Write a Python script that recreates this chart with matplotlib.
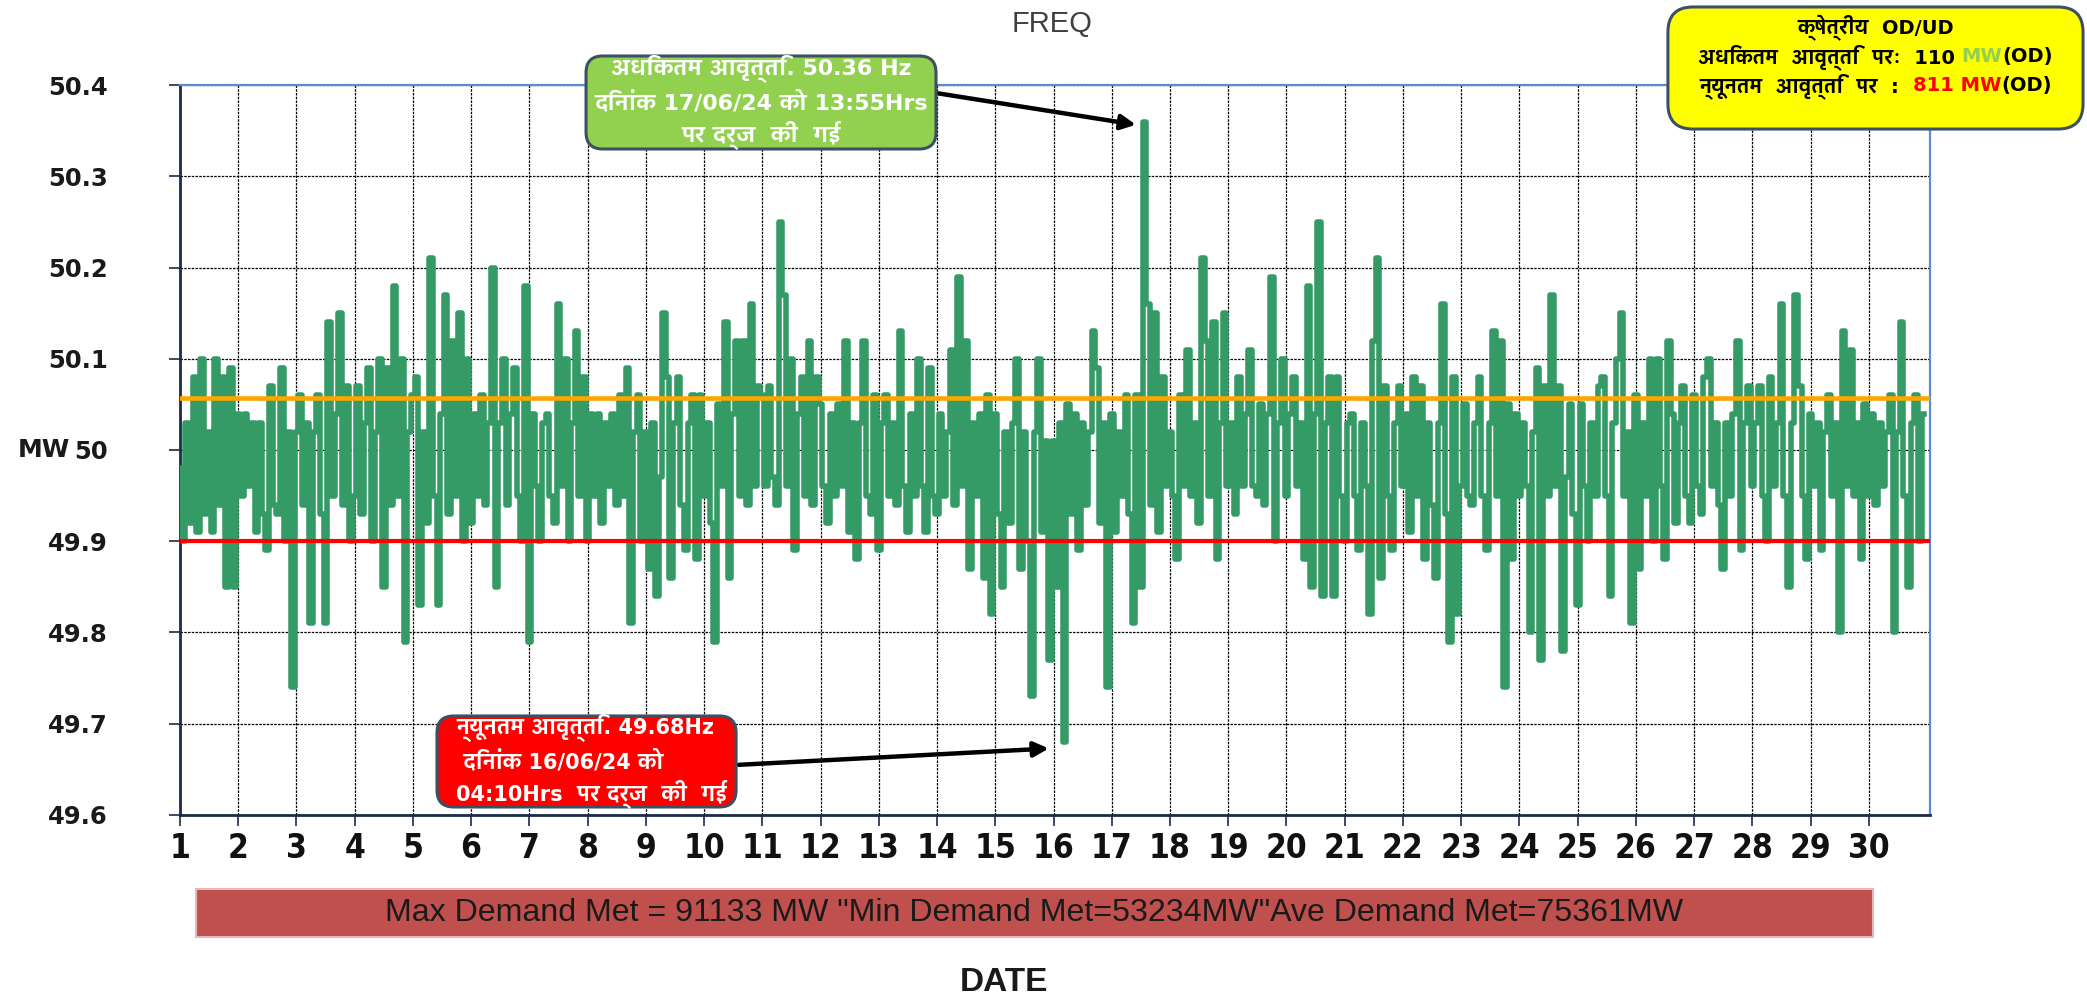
import numpy as np
import matplotlib
matplotlib.use("Agg")
import matplotlib.pyplot as plt
from matplotlib import font_manager, ft2font
from matplotlib.patches import FancyBboxPatch, Rectangle

# frequency readings, 16 per day (every 1.5 h)
freq_wk1 = [
    49.98, 49.90, 50.03, 49.92, 50.08, 49.91, 50.10, 49.93, 50.02, 49.91, 50.10, 49.94, 50.08, 49.85, 50.09, 49.85,
    50.04, 49.95, 50.04, 49.96, 50.03, 49.91, 50.03, 49.93, 49.89, 50.07, 49.94, 49.93, 50.09, 49.90, 50.02, 49.74,
    50.02, 50.06, 49.94, 50.03, 49.81, 50.02, 50.06, 49.93, 49.81, 50.14, 49.95, 50.04, 50.15, 49.94, 50.07, 49.90,
    49.95, 50.07, 49.93, 50.03, 50.09, 49.90, 50.02, 50.10, 49.85, 50.09, 49.94, 50.18, 49.95, 50.10, 49.79, 50.02,
    50.06, 50.08, 49.83, 50.02, 49.92, 50.21, 49.95, 49.83, 50.04, 50.17, 49.93, 50.12, 49.95, 50.15, 49.90, 50.10,
    49.92, 50.04, 49.95, 50.06, 49.94, 50.03, 50.20, 49.85, 50.03, 50.10, 49.94, 50.04, 50.09, 49.95, 49.90, 50.18,
    49.79, 50.04, 49.96, 49.90, 50.03, 50.04, 49.95, 49.92, 50.16, 49.96, 50.10, 49.90, 50.03, 50.13, 49.95, 50.08,
]
freq_wk2 = [
    49.90, 50.04, 49.95, 50.04, 49.92, 50.03, 49.96, 50.04, 49.94, 50.06, 49.95, 50.09, 49.81, 50.02, 50.06, 49.90,
    50.02, 49.87, 50.03, 49.84, 49.97, 50.15, 50.08, 49.86, 50.03, 50.08, 49.94, 49.89, 50.03, 50.06, 49.88, 50.06,
    49.95, 50.03, 49.92, 49.79, 50.05, 49.96, 50.14, 49.86, 50.04, 50.12, 49.95, 50.12, 49.94, 50.16, 49.96, 50.07,
    50.06, 49.96, 50.07, 49.97, 49.94, 50.25, 50.17, 49.96, 50.10, 49.89, 50.04, 50.08, 49.95, 50.12, 49.94, 50.08,
    50.05, 49.96, 49.92, 50.04, 49.95, 50.05, 49.96, 50.12, 49.91, 50.03, 49.88, 50.03, 50.12, 49.95, 49.93, 50.06,
    49.89, 50.03, 50.06, 49.95, 50.03, 49.94, 50.13, 49.96, 49.91, 50.04, 49.95, 50.10, 49.96, 49.91, 50.09, 49.95,
    49.93, 50.04, 49.95, 50.02, 50.11, 49.94, 50.19, 49.96, 50.12, 49.87, 50.03, 49.95, 50.04, 49.86, 50.06, 49.82,
]
freq_wk3 = [
    50.04, 49.93, 49.85, 50.02, 49.92, 50.03, 50.10, 49.87, 50.02, 49.90, 49.73, 50.02, 50.10, 49.91, 50.01, 49.77,
    50.01, 49.85, 50.03, 49.68, 50.05, 49.93, 50.04, 49.89, 50.03, 49.94, 50.02, 50.13, 50.09, 49.92, 50.03, 49.74,
    50.04, 49.91, 50.02, 49.95, 50.06, 49.93, 49.81, 50.06, 49.85, 50.36, 50.16, 49.94, 50.15, 49.91, 50.08, 49.96,
    50.02, 49.95, 49.88, 50.06, 49.96, 50.11, 49.95, 50.03, 49.92, 50.21, 50.12, 49.95, 50.14, 49.88, 50.03, 50.15,
    49.96, 50.03, 49.93, 50.08, 49.96, 50.04, 50.11, 49.96, 49.95, 50.05, 49.94, 50.04, 50.19, 49.90, 50.03, 50.10,
    49.95, 50.04, 50.08, 49.96, 50.03, 49.88, 50.18, 49.85, 50.04, 50.25, 49.84, 50.03, 50.08, 49.84, 50.08, 49.95,
    49.90, 50.03, 50.04, 49.95, 49.89, 50.03, 49.96, 49.82, 50.12, 50.21, 49.86, 50.07, 49.95, 49.89, 50.03, 50.07,
]
freq_wk4 = [
    49.96, 50.04, 49.91, 50.08, 49.95, 50.07, 49.88, 50.03, 49.94, 49.86, 50.03, 50.16, 49.93, 49.79, 50.08, 49.82,
    49.96, 50.05, 49.95, 49.94, 50.03, 50.08, 49.95, 49.89, 50.03, 50.13, 49.95, 50.12, 49.74, 50.05, 49.88, 50.04,
    49.95, 50.03, 49.96, 49.80, 50.02, 50.09, 49.77, 50.07, 49.95, 50.17, 49.96, 50.07, 49.78, 49.97, 50.05, 49.93,
    49.83, 50.05, 49.96, 49.90, 50.03, 49.95, 50.07, 50.08, 49.95, 49.84, 50.03, 50.10, 50.15, 49.95, 50.02, 49.81,
    50.06, 49.87, 50.03, 49.95, 50.10, 49.90, 50.10, 49.96, 49.88, 50.12, 50.04, 49.92, 50.03, 50.07, 49.95, 49.92,
    50.06, 49.96, 49.93, 50.08, 50.10, 49.96, 50.03, 49.94, 49.87, 50.03, 49.95, 50.04, 50.12, 49.89, 50.03, 50.07,
    49.96, 50.03, 50.07, 49.95, 49.90, 50.08, 49.96, 50.03, 50.16, 49.95, 49.85, 50.03, 50.17, 50.07, 49.95, 49.88,
    50.04, 49.96, 50.03, 49.89, 50.02, 50.06, 49.95, 50.03, 49.80, 50.13, 49.96, 50.11, 49.95, 50.03, 49.88, 50.05,
    49.95, 50.04, 49.94, 50.03, 49.96, 50.02, 50.06, 49.80, 50.02, 50.14, 49.95, 49.85, 50.03, 50.06, 49.90, 50.04,
]
pts_per_day = 16

upper_limit = 50.057
lower_limit = 49.90

day_ticks = list(range(1, 31))
freq_ticks = [49.6, 49.7, 49.8, 49.9, 50.0, 50.1, 50.2, 50.3, 50.4]
freq_tick_labels = ["49.6", "49.7", "49.8", "49.9", "50", "50.1", "50.2", "50.3", "50.4"]

max_text = "अधिकतम आवृत्ति. 50.36 Hz\nदिनांक 17/06/24 को 13:55Hrs\nपर दर्ज  की  गई"
min_text = "न्यूनतम आवृत्ति. 49.68Hz\n दिनांक 16/06/24 को\n04:10Hrs  पर दर्ज  की  गई"
od_title = "क्षेत्रीय  OD/UD"
od_line1 = [("अधिकतम  आवृत्ति  परः  110 ", "black"), ("MW", "#92D050"), ("(OD)", "black")]
od_line2 = [("न्यूनतम  आवृत्ति  पर  :  ", "black"), ("811 MW", "#FF0000"), ("(OD)", "black")]
demand_text = 'Max Demand Met = 91133 MW "Min Demand Met=53234MW"Ave Demand Met=75361MW'

freq = np.array(freq_wk1 + freq_wk2 + freq_wk3 + freq_wk4)
x = 1 + np.arange(len(freq)) / pts_per_day


# fonts: pick a sans face that has Devanagari, and a bold narrow face if one exists
def deva_rank(f):
    n = f.name
    score = 0
    if "Devanagari" in n:
        score -= 10
    if "Sans" in n:
        score -= 4
    if "Mono" in n or "Serif" in n:
        score += 6
    return score


def weight_num(w):
    if isinstance(w, str):
        return {"bold": 700, "heavy": 800, "black": 900, "semibold": 600,
                "demibold": 600, "extra bold": 800}.get(w.lower(), 400)
    return w


deva_fonts = []
for f in font_manager.fontManager.ttflist:
    try:
        if ft2font.FT2Font(f.fname).get_char_index(ord("क")):
            deva_fonts.append(f)
    except Exception:
        pass
deva_fonts.sort(key=deva_rank)
deva = deva_fonts[0].name if deva_fonts else None
box_family = ["DejaVu Sans", deva] if deva else ["DejaVu Sans"]

narrow = [f for f in font_manager.fontManager.ttflist
          if "Narrow" in f.name or "Condensed" in f.name or f.stretch in ("condensed", "semi-condensed")]
narrow.sort(key=lambda f: abs(weight_num(f.weight) - 700))
if narrow:
    nf = narrow[0]
    date_font = dict(family=nf.name, fontsize=24, fontweight=weight_num(nf.weight),
                     fontstretch=nf.stretch, fontstyle="normal")
else:
    date_font = dict(family="DejaVu Sans", fontsize=18, fontweight="bold")

fig = plt.figure(figsize=(20.87, 9.98), dpi=100)
ax = fig.add_axes([0.0862, 0.1834, 0.8386, 0.7314])

ax.plot(x, freq, color="#349A66", lw=4.0, drawstyle="steps-mid", zorder=3)
ax.axhline(upper_limit, color="#FFA500", lw=3.3, zorder=4)
ax.axhline(lower_limit, color="#FF0000", lw=3.0, zorder=4)

ax.set_xlim(1, 31.05)
ax.set_ylim(49.6, 50.4)
ax.set_xticks(day_ticks)
ax.set_xticklabels([str(d) for d in day_ticks], color="#111111", **date_font)
ax.set_yticks(freq_ticks)
ax.set_yticklabels(freq_tick_labels, fontsize=17.5, fontweight="bold", color="#1a1a1a")
ax.tick_params(axis="y", length=8, width=1.2, pad=44, color="#1C2B4A")
ax.tick_params(axis="x", length=8, width=1.2, pad=4, color="#1C2B4A")
ax.grid(True, color="black", lw=0.9, ls=(0, (2, 1)), zorder=1)
ax.set_axisbelow(True)

for side in ["left", "bottom"]:
    ax.spines[side].set_color("#1C2B4A")
    ax.spines[side].set_linewidth(2)
for side in ["top", "right"]:
    ax.spines[side].set_color("#5B8BD0")
    ax.spines[side].set_linewidth(1.6)

fig.text(0.504, 0.976, "FREQ", ha="center", va="center", fontsize=21, color="#404040",
         family="Liberation Sans")
fig.text(0.0210, 0.549, "MW", ha="center", va="center", fontsize=18, fontweight="bold",
         color="#1a1a1a")
fig.text(0.481, 0.016, "DATE", ha="center", va="center", fontsize=24, fontweight="bold",
         color="#1a1a1a", family="Liberation Sans")

# demand bar
fig.add_artist(Rectangle((0.0939, 0.0611), 0.8036, 0.0481, transform=fig.transFigure,
                         facecolor="#C0504D", edgecolor="#E6B8B7", lw=1.5))
dt = fig.text(0.4957, 0.0852, demand_text, ha="center", va="center", fontsize=20,
              color="#1a1a1a", family="Liberation Sans")

# annotation boxes
fig.add_artist(FancyBboxPatch((0.2808, 0.8507), 0.1677, 0.0932, transform=fig.transFigure,
                              boxstyle="round,pad=0,rounding_size=0.008",
                              facecolor="#92D050", edgecolor="#3C5064", lw=2.2,
                              mutation_aspect=2.09))
gt = fig.text(0.3646, 0.8973, max_text, ha="center", va="center", fontsize=15,
              fontweight="bold", color="white", family=box_family, linespacing=1.4)

fig.add_artist(FancyBboxPatch((0.2094, 0.1914), 0.1433, 0.0912, transform=fig.transFigure,
                              boxstyle="round,pad=0,rounding_size=0.008",
                              facecolor="#FF0000", edgecolor="#3C5064", lw=2.2,
                              mutation_aspect=2.09))
rt = fig.text(0.2185, 0.2370, min_text, ha="left", va="center", fontsize=15,
              fontweight="bold", color="white", family=box_family, linespacing=1.4)

fig.add_artist(FancyBboxPatch((0.7992, 0.8707), 0.1989, 0.1223, transform=fig.transFigure,
                              boxstyle="round,pad=0,rounding_size=0.012",
                              facecolor="#FFFF00", edgecolor="#3C5064", lw=2.2,
                              mutation_aspect=2.09))
box_xc = 0.8987
yt = fig.text(box_xc, 0.972, od_title, ha="center", va="center", fontsize=15,
              fontweight="bold", color="black", family=box_family)


def pieces_line(y, pieces):
    return [fig.text(0, y, s, ha="left", va="center", fontsize=15, fontweight="bold",
                     color=c, family=box_family) for s, c in pieces]


line1 = pieces_line(0.943, od_line1)
line2 = pieces_line(0.914, od_line2)

# arrows to the max / min readings
i_max = int(np.argmax(freq))
i_min = int(np.argmin(freq))
ax.annotate("", xy=(x[i_max] - 0.1, freq[i_max] - 0.004), xycoords="data",
            xytext=(0.4485, 0.9068), textcoords="figure fraction",
            arrowprops=dict(arrowstyle="-|>", color="black", lw=3.2, mutation_scale=22),
            annotation_clip=False, zorder=6)
ax.annotate("", xy=(x[i_min] - 0.22, freq[i_min] - 0.007), xycoords="data",
            xytext=(0.3527, 0.2335), textcoords="figure fraction",
            arrowprops=dict(arrowstyle="-|>", color="black", lw=3.2, mutation_scale=22),
            annotation_clip=False, zorder=6)

# fit text widths to the boxes, then lay out the multi-colour lines
fig.canvas.draw()
r = fig.canvas.get_renderer()
fw = fig.bbox.width


def fit(t, target_px, lo, hi):
    w = t.get_window_extent(r).width
    fs = t.get_fontsize() * target_px / w
    t.set_fontsize(min(max(fs, lo), hi))
    return t.get_fontsize()


fit(dt, 1294, 12, 26)
fit(gt, 334, 11, 19)
fit(rt, 272, 11, 19)
w1 = sum(t.get_window_extent(r).width for t in line1)
fs_line = min(max(15 * 357 / w1, 11), 19)
for t in line1 + line2 + [yt]:
    t.set_fontsize(fs_line)
fig.canvas.draw()
for line in [line1, line2]:
    widths = [t.get_window_extent(r).width / fw for t in line]
    pos = box_xc - sum(widths) / 2
    for t, w in zip(line, widths):
        t.set_x(pos)
        pos += w

fig.savefig("out.png", dpi=100)
